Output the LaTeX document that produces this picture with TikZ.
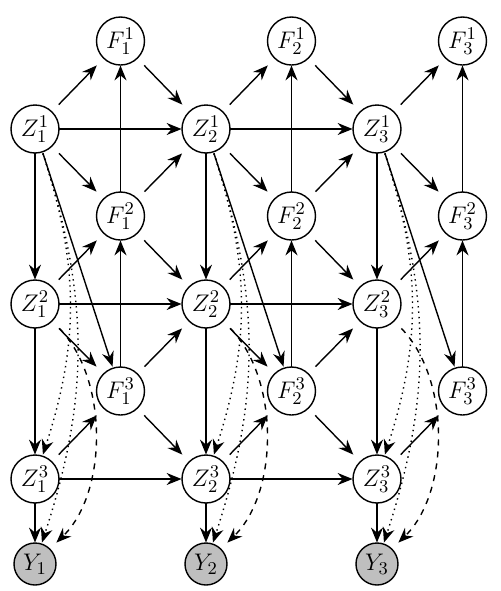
\documentclass[tikz,border=0pt]{standalone}
\usetikzlibrary{arrows.meta,backgrounds}
\begin{document}
\begin{tikzpicture}[x=0.5pt,y=-0.5pt,
  nd/.style={rectangle,inner sep=0pt,minimum size=24pt,font=\fontsize{12.5}{15}\selectfont},
  yn/.style={rectangle,inner sep=0pt,minimum size=21pt,font=\fontsize{12.5}{15}\selectfont},
  ring/.style={line width=0.7pt},
  arr/.style={-{Stealth[length=7.5pt,width=6pt,inset=2.5pt]},line width=0.7pt},
  dt/.style={arr,dotted},
  ds/.style={arr,dashed}]
\useasboundingbox (0,0) rectangle (500,591);
\foreach \i/\x/\f in {1/35/120.5,2/206/291.5,3/377/462.5}{
  \node[nd] (Z\i1) at (\x,129) {$Z_{\i}^1$};
  \node[nd] (Z\i2) at (\x,304) {$Z_{\i}^2$};
  \node[nd] (Z\i3) at (\x,479) {$Z_{\i}^3$};
  \node[nd] (F\i1) at (\f,41) {$F_{\i}^1$};
  \node[nd] (F\i2) at (\f,216) {$F_{\i}^2$};
  \node[nd] (F\i3) at (\f,391) {$F_{\i}^3$};
  \node[yn] (Y\i) at (\x,564) {$Y_{\i}$};
}
\begin{scope}[on background layer]
\foreach \i in {1,2,3}{
  \foreach \n in {Z\i1,Z\i2,Z\i3,F\i1,F\i2,F\i3}
    \draw[ring] (\n.center) circle[radius=12pt];
  \filldraw[ring,fill=gray!50] (Y\i.center) circle[radius=10.5pt];
}
\end{scope}
\foreach \i in {1,2,3}{
  \draw[arr] (Z\i1) -- (F\i1);
  \draw[arr] (F\i2) -- (F\i1);
  \draw[arr] (Z\i1) -- (F\i2);
  \draw[arr] (Z\i1) -- (Z\i2);
  \draw[arr] (Z\i1) -- (F\i3);
  \draw[arr] (Z\i2) -- (F\i2);
  \draw[arr] (F\i3) -- (F\i2);
  \draw[arr] (Z\i2) -- (Z\i3);
  \draw[arr] (Z\i3) -- (F\i3);
  \draw[arr] (Z\i3) -- (Y\i);
  \draw[dt] (Z\i1) to[bend left=18] (Z\i3);
  \draw[dt] (Z\i1) to[bend left=18] (Y\i);
  \draw[ds] (Z\i2) to[bend left=45,looseness=0.85] (Y\i);
}
\foreach \i in {1,2}
  \draw[arr] (Z\i2) -- (F\i3);
\foreach \i/\j in {1/2,2/3}{
  \draw[arr] (F\i1) -- (Z\j1);
  \draw[arr] (F\i2) -- (Z\j1);
  \draw[arr] (Z\i1) -- (Z\j1);
  \draw[arr] (F\i2) -- (Z\j2);
  \draw[arr] (F\i3) -- (Z\j2);
  \draw[arr] (Z\i2) -- (Z\j2);
  \draw[arr] (F\i3) -- (Z\j3);
  \draw[arr] (Z\i3) -- (Z\j3);
}
\end{tikzpicture}
\end{document}
